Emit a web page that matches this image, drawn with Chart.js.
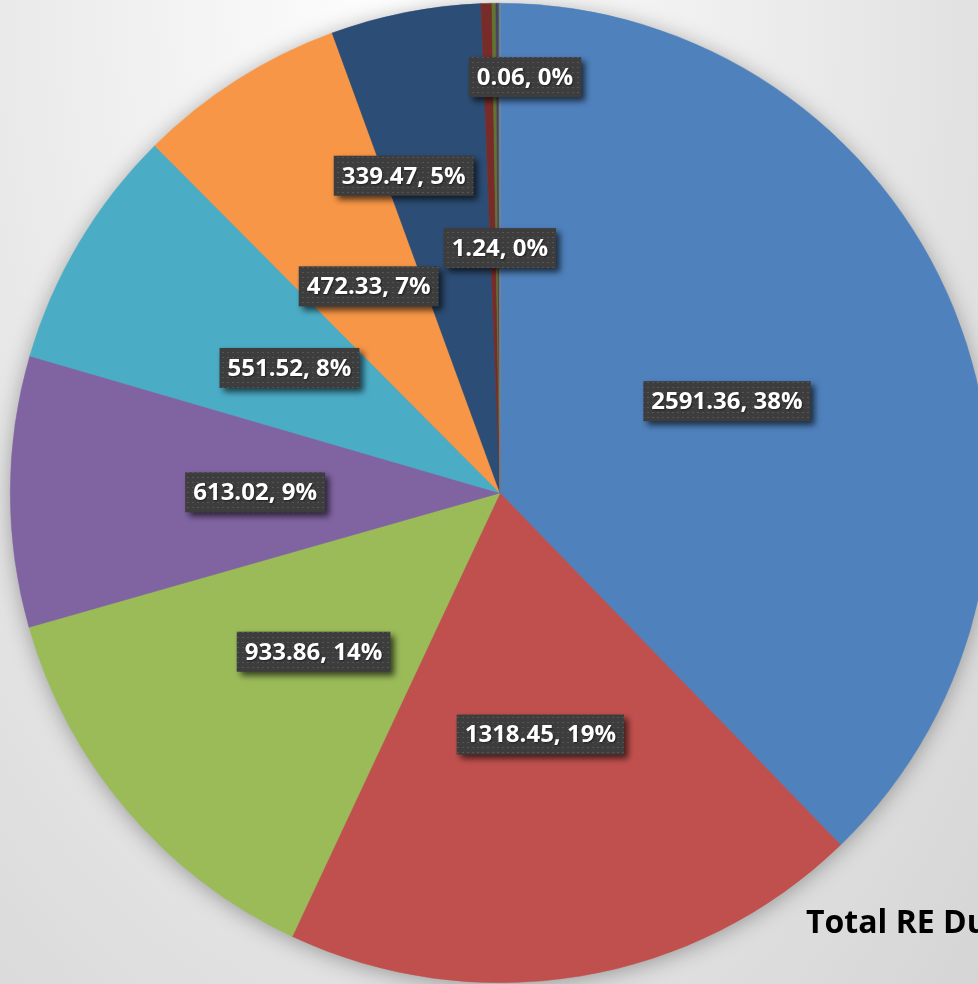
<!DOCTYPE html>
<html>
<head>
<meta charset="utf-8">
<script src="https://cdn.jsdelivr.net/npm/chart.js@4.4.1/dist/chart.umd.min.js"></script>
<style>
  html, body {
    margin: 0;
    padding: 0;
    width: 978px;
    height: 984px;
    overflow: hidden;
    background: radial-gradient(ellipse farthest-corner at 42% 0%, #ffffff 0%, #ececec 45%, #d5d5d5 100%);
    font-family: "Open Sans", sans-serif;
  }
  #wrap { position: relative; width: 978px; height: 984px; }
  canvas { position: absolute; left: 0; top: 0; }
  #titulo {
    position: absolute;
    left: 806px;
    top: 905px;
    font: bold 32px/32px "Open Sans", sans-serif;
    color: #000;
    white-space: nowrap;
  }
</style>
</head>
<body>
<div id="wrap">
  <canvas id="pieChart" width="1000" height="984"></canvas>
  <div id="titulo">Total RE Duration</div>
</div>
<script>
// Datos del gráfico
const categorias = [
  "Cat 1", "Cat 2", "Cat 3", "Cat 4", "Cat 5", "Cat 6", "Cat 7",
  "Cat 8", "Cat 9", "Cat 10", "Cat 11", "Cat 12", "Cat 13"
];
const valores = [
  2591.36, 1318.45, 933.86, 613.02, 551.52, 472.33, 339.47,
  24.6, 9.0, 4.5, 3.3, 1.24, 0.06
];
const colores = [
  "#4F81BD", "#C0504D", "#9BBB59", "#8064A2", "#4BACC6", "#F79646", "#2C4D75",
  "#772C2A", "#5F7530", "#4D3B62", "#276A7C", "#B65708", "#729ACA"
];

// Etiquetas que no se ven en la imagen y etiquetas movidas a mano
const etiquetasOcultas = [7, 8, 9, 10];
const desplazamientos = { 6: [-49, -77], 12: [25, -171] };

const total = valores.reduce((a, b) => a + b, 0);

// Patrón de puntos para las cajas de etiquetas
function crearPatron(ctx) {
  const c = document.createElement("canvas");
  c.width = 5;
  c.height = 5;
  const g = c.getContext("2d");
  g.fillStyle = "#3d3d3d";
  g.fillRect(0, 0, 5, 5);
  g.fillStyle = "#555555";
  g.fillRect(2, 2, 2, 1);
  return ctx.createPattern(c, "repeat");
}

// Sombra suave detrás del pastel
const sombraPastel = {
  id: "sombraPastel",
  beforeDatasetsDraw(chart) {
    const arc = chart.getDatasetMeta(0).data[0];
    if (!arc) return;
    const ctx = chart.ctx;
    ctx.save();
    ctx.shadowColor = "rgba(0,0,0,0.35)";
    ctx.shadowBlur = 22;
    ctx.shadowOffsetY = 3;
    ctx.fillStyle = "#888";
    ctx.beginPath();
    ctx.arc(arc.x, arc.y, arc.outerRadius - 1, 0, Math.PI * 2);
    ctx.fill();
    ctx.restore();
  }
};

// Cajas oscuras con "valor, porcentaje"
const cajasEtiquetas = {
  id: "cajasEtiquetas",
  afterDatasetsDraw(chart) {
    const ctx = chart.ctx;
    const meta = chart.getDatasetMeta(0);
    const patron = crearPatron(ctx);
    ctx.save();
    ctx.font = 'bold 24px "Open Sans"';
    ctx.textAlign = "center";
    ctx.textBaseline = "middle";
    meta.data.forEach((arc, i) => {
      if (etiquetasOcultas.includes(i)) return;
      const p = arc.tooltipPosition(true);
      const d = desplazamientos[i] || [0, 0];
      const x = p.x + d[0];
      const y = p.y + d[1];
      const texto = valores[i].toFixed(2) + ", " + Math.round((valores[i] / total) * 100) + "%";
      const w = ctx.measureText(texto).width + 16;
      const h = 40;
      ctx.save();
      ctx.shadowColor = "rgba(0,0,0,0.65)";
      ctx.shadowBlur = 6;
      ctx.shadowOffsetX = 4;
      ctx.shadowOffsetY = 4;
      ctx.fillStyle = patron;
      ctx.fillRect(x - w / 2, y - h / 2, w, h);
      ctx.restore();
      ctx.save();
      ctx.shadowColor = "rgba(0,0,0,0.5)";
      ctx.shadowBlur = 2;
      ctx.shadowOffsetX = 1;
      ctx.shadowOffsetY = 1;
      ctx.fillStyle = "#ffffff";
      ctx.fillText(texto, x, y + 1);
      ctx.restore();
    });
    ctx.restore();
  }
};

new Chart(document.getElementById("pieChart"), {
  type: "pie",
  data: {
    labels: categorias,
    datasets: [
      {
        data: valores,
        backgroundColor: colores,
        borderColor: colores,
        borderWidth: 0.5
      }
    ]
  },
  options: {
    responsive: false,
    animation: false,
    devicePixelRatio: 1,
    layout: { padding: { left: 10, right: 10, top: 3, bottom: 1 } },
    plugins: {
      legend: { display: false },
      tooltip: { enabled: false }
    }
  },
  plugins: [sombraPastel, cajasEtiquetas]
});
</script>
</body>
</html>
